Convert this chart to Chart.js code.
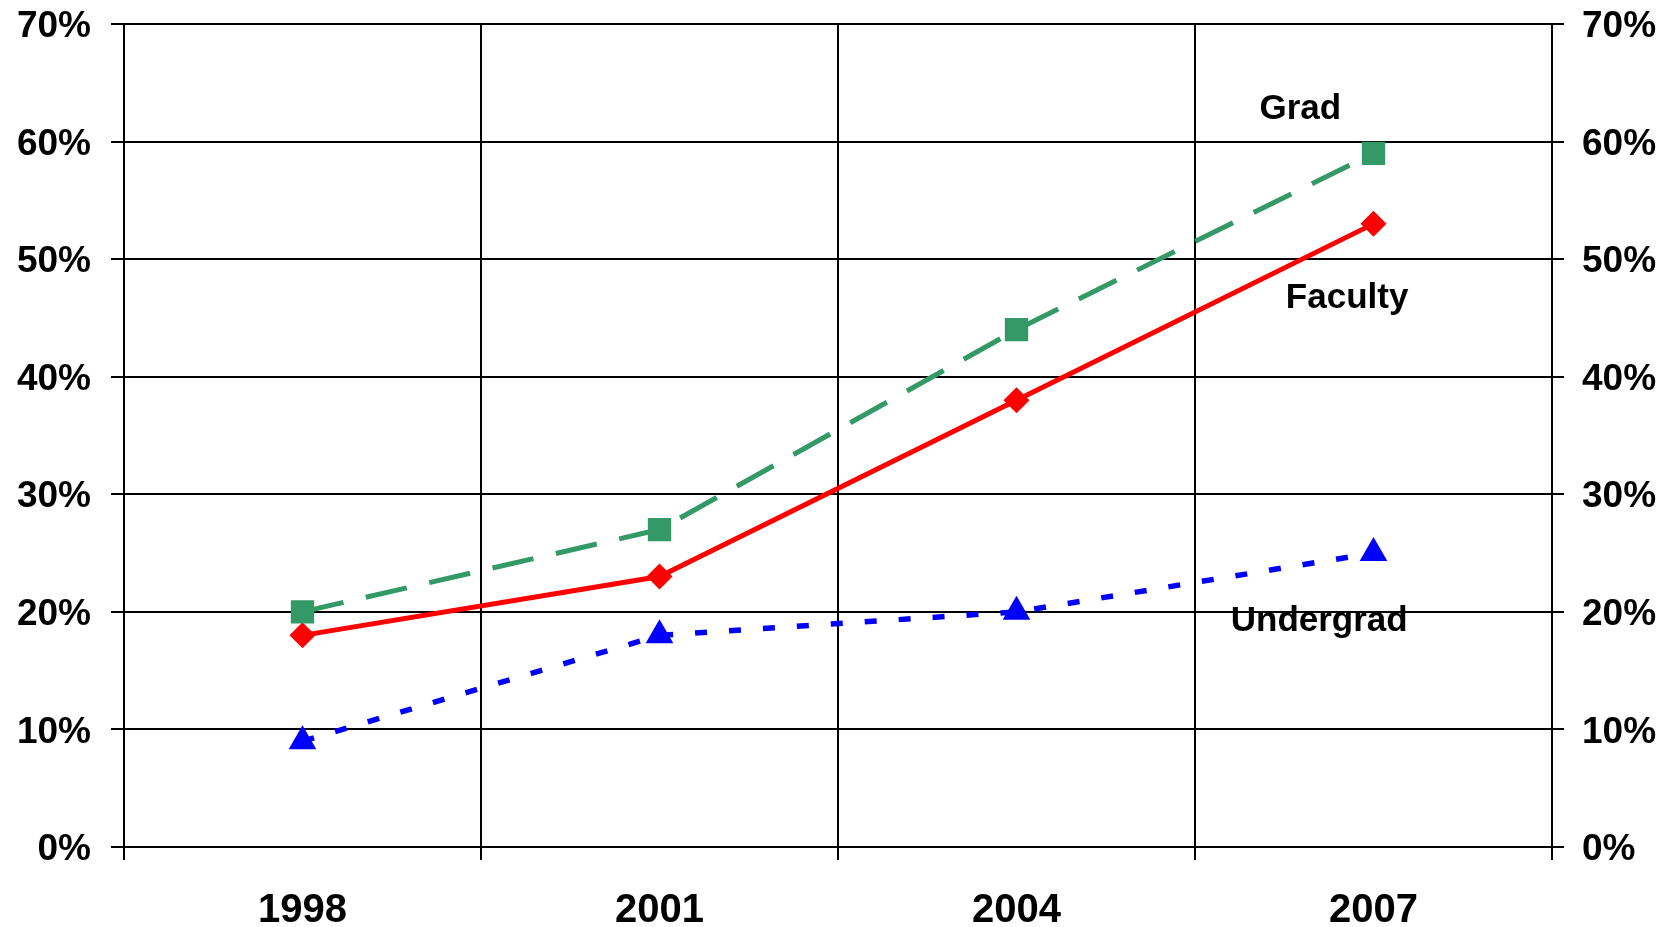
<!DOCTYPE html>
<html>
<head>
<meta charset="utf-8">
<script src="https://cdn.jsdelivr.net/npm/chart.js@4.4.0/dist/chart.umd.min.js"></script>
<style>
  html, body { margin: 0; padding: 0; background: #ffffff; }
  canvas { display: block; }
</style>
</head>
<body>
<canvas id="c" width="1673" height="927"></canvas>
<script>
// ---- data ----
const years = ['1998', '2001', '2004', '2007'];
const gradValues = [20, 27, 44, 59];
const facultyValues = [18, 23, 38, 53];
const undergradValues = [9, 18, 20, 25];
const yTickValues = [0, 10, 20, 30, 40, 50, 60, 70];

// in-chart series labels (text, category position, value position)
const seriesLabelText = ['Grad', 'Faculty', 'Undergrad'];
const seriesLabelX = [2.795, 2.926, 2.848];
const seriesLabelY = [62.7, 46.65, 19.16];

const FONT = '"Liberation Sans", Arial, sans-serif';

const labelPlugin = {
  id: 'seriesLabels',
  afterDatasetsDraw(chart) {
    const ctx = chart.ctx;
    const xs = chart.scales.x, ys = chart.scales.y;
    ctx.save();
    ctx.font = 'bold 35px ' + FONT;
    ctx.fillStyle = '#000000';
    ctx.textAlign = 'center';
    ctx.textBaseline = 'middle';
    seriesLabelText.forEach((t, i) => {
      ctx.fillText(t, xs.getPixelForValue(seriesLabelX[i]), ys.getPixelForValue(seriesLabelY[i]));
    });
    ctx.restore();
  }
};

const yTickCb = v => v + '%';
const fitY = w => s => { s.width = w; s.paddingTop = 0; s.paddingBottom = 0; };

new Chart(document.getElementById('c'), {
  type: 'line',
  data: {
    labels: years,
    datasets: [
      {
        label: 'Grad',
        data: gradValues,
        borderColor: '#339966',
        backgroundColor: '#339966',
        borderWidth: 5,
        borderDash: [42, 23],
        pointStyle: 'rect',
        pointRadius: 16.5,
        pointBorderWidth: 0,
        tension: 0,
        fill: false
      },
      {
        label: 'Faculty',
        data: facultyValues,
        borderColor: '#ff0000',
        backgroundColor: '#ff0000',
        borderWidth: 5,
        pointStyle: 'rectRot',
        pointRadius: 13,
        pointBorderWidth: 0,
        tension: 0,
        fill: false
      },
      {
        label: 'Undergrad',
        data: undergradValues,
        borderColor: '#0000ff',
        backgroundColor: '#0000ff',
        borderWidth: 5.5,
        borderDash: [12, 22],
        pointStyle: 'triangle',
        pointRadius: 16,
        pointBorderWidth: 0,
        tension: 0,
        fill: false
      }
    ]
  },
  options: {
    responsive: false,
    animation: false,
    devicePixelRatio: 1,
    layout: { autoPadding: false, padding: { top: 24, left: 0, right: 0, bottom: 0 } },
    plugins: { legend: { display: false }, tooltip: { enabled: false } },
    scales: {
      x: {
        type: 'category',
        offset: true,
        grid: { offset: true, color: '#000000', lineWidth: 2, tickLength: 13, drawTicks: true },
        border: { color: '#000000', width: 2 },
        ticks: { color: '#000000', font: { family: FONT, size: 40, weight: 'bold' }, padding: 27, maxRotation: 0 },
        afterFit: s => { s.height = 80; s.paddingLeft = 0; s.paddingRight = 0; }
      },
      y: {
        position: 'left',
        min: 0, max: 70,
        afterBuildTicks: s => { s.ticks = yTickValues.map(v => ({ value: v })); },
        grid: { color: '#000000', lineWidth: 2, tickLength: 13 },
        border: { color: '#000000', width: 2 },
        ticks: { color: '#000000', font: { family: FONT, size: 37, weight: 'bold' }, padding: 20, labelOffset: 3, callback: yTickCb },
        afterFit: fitY(124)
      },
      y2: {
        position: 'right',
        min: 0, max: 70,
        afterBuildTicks: s => { s.ticks = yTickValues.map(v => ({ value: v })); },
        grid: { drawOnChartArea: false, color: '#000000', lineWidth: 2, tickLength: 12 },
        border: { color: '#000000', width: 2 },
        ticks: { color: '#000000', font: { family: FONT, size: 37, weight: 'bold' }, padding: 18, labelOffset: 3, callback: yTickCb },
        afterFit: fitY(121)
      }
    }
  },
  plugins: [labelPlugin]
});
</script>
</body>
</html>
